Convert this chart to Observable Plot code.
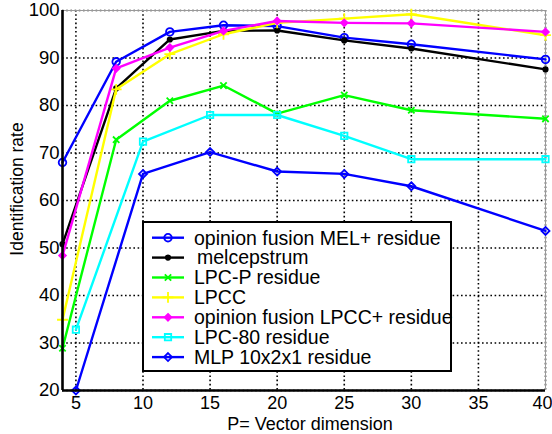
<!DOCTYPE html>
<html>
<head>
<meta charset="utf-8">
<script src="https://cdn.jsdelivr.net/npm/d3@7"></script>
<script src="https://cdn.jsdelivr.net/npm/@observablehq/plot@0.6"></script>
<style>
  html, body { margin: 0; padding: 0; background: white; }
</style>
</head>
<body>
<div id="chart"></div>
<script>
// ---- data ----
const xA = [4, 8, 12, 16, 20, 25, 30, 40];
const xB = [5, 10, 15, 20, 25, 30, 40];

const melFusion   = [68.0, 89.2, 95.5, 96.9, 96.7, 94.3, 92.9, 89.7];
const melcep      = [50.8, 83.6, 93.9, 95.7, 95.8, 93.7, 92.0, 87.6];
const lpcP        = [28.9, 72.8, 81.0, 84.2, 78.3, 82.2, 79.0, 77.2];
const lpcc        = [34.9, 83.4, 90.8, 95.0, 97.4, 98.3, 99.2, 94.8];
const lpccFusion  = [48.4, 87.8, 92.2, 95.7, 97.8, 97.4, 97.3, 95.5];
const lpc80       = [32.8, 72.4, 78.0, 78.0, 73.6, 68.7, 68.7];
const mlp         = [20.0, 65.6, 70.2, 66.1, 65.6, 63.0, 53.6];

const seriesNames = [
  "opinion fusion MEL+ residue",
  "melcepstrum",
  "LPC-P residue",
  "LPCC",
  "opinion fusion LPCC+ residue",
  "LPC-80 residue",
  "MLP 10x2x1 residue"
];
const seriesX = [xA, xA, xA, xA, xA, xB, xB];
const seriesY = [melFusion, melcep, lpcP, lpcc, lpccFusion, lpc80, mlp];

const xTicks = [5, 10, 15, 20, 25, 30, 35, 40];
const yTicks = [20, 30, 40, 50, 60, 70, 80, 90, 100];
const xTitle = "P= Vector dimension";
const yTitle = "Identification rate";

// ---- styles ----
const styles = [
  {color: "#0000ff", symbol: "circle",   r: 3.8, fill: "none"},
  {color: "#000000", symbol: "circle",   r: 2.2, fill: "#000000"},
  {color: "#00ff00", symbol: "times",    r: 3.0, fill: "none"},
  {color: "#ffff00", symbol: "plus",     r: 3.6, fill: "none"},
  {color: "#ff00ff", symbol: "diamond2", r: 3.0, fill: "#ff00ff"},
  {color: "#00ffff", symbol: "square",   r: 3.6, fill: "none"},
  {color: "#0000ff", symbol: "diamond2", r: 3.6, fill: "none"}
];

const rows = [];
seriesNames.forEach((name, i) => {
  seriesX[i].forEach((x, j) => rows.push({series: name, idx: i, x, y: seriesY[i][j]}));
});

const marks = [
  Plot.ruleX(xTicks, {stroke: "black", strokeWidth: 1.6, strokeDasharray: "1.6,2.6"}),
  Plot.ruleY(yTicks, {stroke: "black", strokeWidth: 1.6, strokeDasharray: "1.6,2.6"}),
  Plot.ruleY([100], {stroke: "#999", strokeWidth: 1}),
  Plot.ruleX([40], {stroke: "#999", strokeWidth: 1})
];
seriesNames.forEach((name, i) => {
  const d = rows.filter(r => r.idx === i);
  const s = styles[i];
  marks.push(Plot.line(d, {x: "x", y: "y", stroke: s.color, strokeWidth: 2.4}));
  marks.push(Plot.dot(d, {x: "x", y: "y", symbol: () => s.symbol, r: s.r,
    stroke: s.color, fill: s.fill, strokeWidth: 1.8}));
});
marks.push(Plot.ruleX([4], {stroke: "black", strokeWidth: 2.6}));
marks.push(Plot.ruleY([20], {stroke: "black", strokeWidth: 2.6}));
marks.push(Plot.axisX({ticks: xTicks, tickSize: 0, tickPadding: 6, label: null, fontSize: 18}));
marks.push(Plot.axisY({ticks: yTicks, tickSize: 0, tickPadding: 3, label: null, fontSize: 18.5}));

const font = "'Liberation Sans', Arial, sans-serif";
const chart = Plot.plot({
  width: 552,
  height: 434,
  marginLeft: 62,
  marginRight: 7,
  marginTop: 10,
  marginBottom: 44,
  x: {domain: [4, 40]},
  y: {domain: [20, 100]},
  style: {fontSize: "18px", fontFamily: font, background: "white", color: "black"},
  marks
});
document.getElementById("chart").appendChild(chart);

// nudge the last x tick label inside the canvas like the reference
const svg = d3.select(chart);
svg.selectAll("[aria-label='x-axis tick label'] text")
  .filter(function() { return this.textContent === "40"; })
  .attr("dx", -3);

// ---- titles & legend ----
svg.append("text")
  .attr("x", 310).attr("y", 429.5)
  .attr("text-anchor", "middle")
  .style("font", `18px ${font}`)
  .text(xTitle);
svg.append("text")
  .attr("transform", "translate(23,189) rotate(-90)")
  .attr("text-anchor", "middle")
  .style("font", `17.5px ${font}`)
  .text(yTitle);

const lg = svg.append("g");
lg.append("rect").attr("x", 143).attr("y", 222).attr("width", 308).attr("height", 149)
  .attr("fill", "white").attr("stroke", "black").attr("stroke-width", 2);
const symMap = {circle: d3.symbolCircle, times: d3.symbolTimes, plus: d3.symbolPlus,
  diamond2: d3.symbolDiamond2, square: d3.symbolSquare};
seriesNames.forEach((name, i) => {
  const s = styles[i];
  const cy = 237.7 + i * 19.9;
  lg.append("line").attr("x1", 152).attr("x2", 184).attr("y1", cy).attr("y2", cy)
    .attr("stroke", s.color).attr("stroke-width", 2.4);
  lg.append("path")
    .attr("d", d3.symbol(symMap[s.symbol], Math.PI * s.r * s.r)())
    .attr("transform", `translate(168,${cy})`)
    .attr("stroke", s.color).attr("stroke-width", 1.8)
    .attr("fill", s.fill);
  lg.append("text").attr("x", i === 1 ? 197 : 194).attr("y", cy)
    .attr("dy", "0.35em")
    .attr("text-anchor", "start")
    .style("font", `19.5px ${font}`)
    .text(name);
});
</script>
</body>
</html>
